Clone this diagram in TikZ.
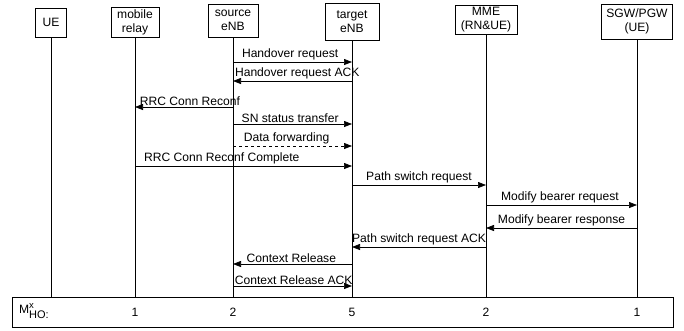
\documentclass[tikz,border=0pt]{standalone}
\usepackage{fontspec}
\setmainfont{Liberation Sans}
\usetikzlibrary{arrows.meta}

\tikzset{
  head/.style={draw, rectangle, align=center, inner sep=1pt, font=\fontsize{12.1}{14}\selectfont},
  lbl/.style={above, inner sep=1.5pt, font=\fontsize{12.1}{14}\selectfont},
  cnt/.style={inner sep=0pt, font=\fontsize{12.1}{14}\selectfont}
}

\begin{document}
\begin{tikzpicture}[>={Triangle[length=8pt,width=6pt]}, x=1pt, y=-1pt, line width=0.7pt]
    \useasboundingbox (0,0) rectangle (684,330);

        % Define the entities along the top
        \node[head, minimum width=31, minimum height=29] (ue) at (51,22.5) {UE};
        \node[head, minimum width=48, minimum height=30] (mr) at (135,22) {mobile\\relay};
        \node[head, minimum width=50, minimum height=33] (se) at (233,20.5) {source\\eNB};
        \node[head, minimum width=54, minimum height=37] (te) at (352,21.5) {target\\eNB};
        \node[head, minimum width=62, minimum height=29] (mme) at (486,19.5) {MME\\(RN\&UE)};
        \node[head, minimum width=71, minimum height=35] (gw) at (637,21.5) {SGW/PGW\\(UE)};

        % Define the counter box at the bottom
        \node[draw, rectangle, minimum width=661, minimum height=30, inner sep=0pt] (bot) at (342.5,312) {};

        % Draw the lifelines down to the counter box
        \draw (ue) -- (ue |- bot.north);
        \draw (mr) -- (mr |- bot.north);
        \draw (se) -- (se |- bot.north);
        \draw (te) -- (te |- bot.north);
        \draw (mme) -- (mme |- bot.north);
        \draw (gw) -- (gw |- bot.north);

        % Draw the handover preparation messages
        \draw[->] (se |- 0,62) -- node[lbl, pos=0.48] {Handover request} (te |- 0,62);
        \draw[->] (te |- 0,81) -- node[lbl, pos=0.46] {Handover request ACK} (se |- 0,81);
        \draw[->] (se |- 0,107) -- node[lbl, pos=0.44] {RRC Conn Reconf} (mr |- 0,107);
        \draw[->] (se |- 0,124) -- node[lbl, pos=0.48] {SN status transfer} (te |- 0,124);
        \draw[->, dashed] (se |- 0,146) -- node[lbl, pos=0.45] {Data forwarding} (te |- 0,146);
        \draw[->] (mr |- 0,166) -- node[lbl, pos=0.40] {RRC Conn Reconf Complete} (te |- 0,166);

        % Draw the path switch messages
        \draw[->] (te |- 0,185) -- node[lbl] {Path switch request} (mme |- 0,185);
        \draw[->] (mme |- 0,205) -- node[lbl, pos=0.49] {Modify bearer request} (gw |- 0,205);
        \draw[->] (gw |- 0,228) -- node[lbl] {Modify bearer response} (mme |- 0,228);
        \draw[->] (mme |- 0,247) -- node[lbl] {Path switch request ACK} (te |- 0,247);

        % Draw the release messages
        \draw[->] (te |- 0,264) -- node[lbl, pos=0.51] {Context Release} (se |- 0,264);
        \draw[->] (se |- 0,286) -- node[lbl, pos=0.51] {Context Release ACK} (te |- 0,286);

        % Define the counts in the bottom box
        \node[cnt, anchor=west] (mho) at ([xshift=7pt, yshift=1pt]bot.west) {M\rlap{\raisebox{5pt}{\fontsize{9.5}{10}\selectfont x}}\raisebox{-5pt}{\fontsize{11}{12}\selectfont HO:}};
        \node[cnt] (n1) at (mr |- bot) {1};
        \node[cnt] (n2) at (se |- bot) {2};
        \node[cnt] (n3) at (te |- bot) {5};
        \node[cnt] (n4) at (mme |- bot) {2};
        \node[cnt] (n5) at (gw |- bot) {1};

\end{tikzpicture}
\end{document}
